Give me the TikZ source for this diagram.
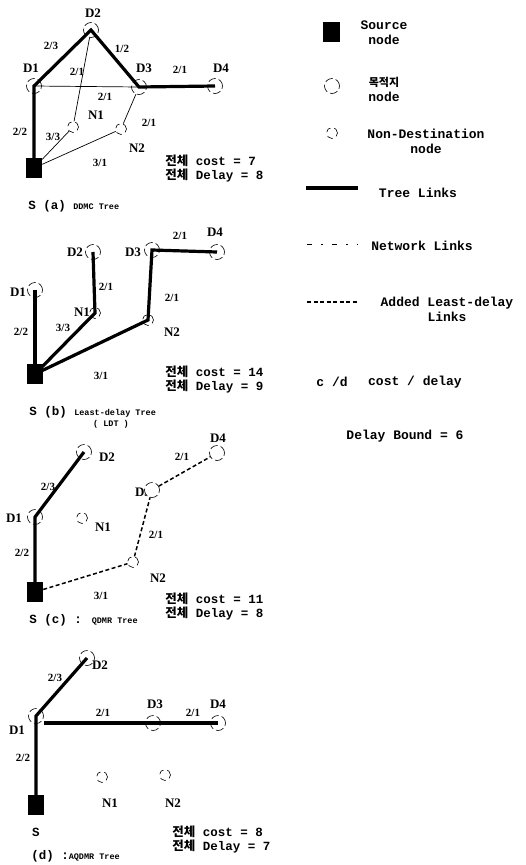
\documentclass[tikz,border=0pt]{standalone}
\usepackage{fontspec}
\setmainfont{Liberation Serif}
\newfontfamily\monof{Liberation Mono}
\newfontfamily\korf{Noto Sans CJK KR}
\newcommand{\jeonche}{{\korf\bfseries 전체}}
\begin{document}
\begin{tikzpicture}[x=1pt, y=-1pt, line width=0.5pt,
  dest/.style={circle, draw, line width=0.6pt, dash pattern=on 8pt off 3pt, minimum size=15pt, inner sep=0pt},
  nondest/.style={circle, draw, line width=0.6pt, dash pattern=on 6pt off 4pt, minimum size=11pt, inner sep=0pt},
  src/.style={rectangle, fill=black, minimum width=16pt, minimum height=20pt, inner sep=0pt},
  tree/.style={line width=3.2pt},
  net/.style={line width=0.7pt},
  added/.style={line width=1.5pt, dash pattern=on 4pt off 2.5pt},
  nm/.style={font=\bfseries\fontsize{13}{13}\selectfont, inner sep=0pt},
  cd/.style={font=\bfseries\fontsize{11}{11}\selectfont, inner sep=0pt},
  txt/.style={font=\monof\bfseries\fontsize{13}{15}\selectfont, align=center, inner sep=0pt},
  totals/.style={font=\monof\bfseries\fontsize{12.5}{14}\selectfont, align=left, anchor=north west, inner sep=0pt},
  capt/.style={font=\monof\bfseries\fontsize{12.5}{12.5}\selectfont, anchor=west, inner sep=0pt}]
  \useasboundingbox (0,0) rectangle (525,865);
  \newcommand{\capsmall}{\fontsize{8.5}{8.5}\selectfont}

  % (a) DDMC 트리
  \node[dest] (aD2) at (91,30) {};
  \node[dest] (aD1) at (34,86) {};
  \node[dest] (aD3) at (139,87) {};
  \node[dest] (aD4) at (215,86) {};
  \node[nondest] (aN1) at (73,127) {};
  \node[nondest] (aN2) at (121,129) {};
  \node[src] (aS) at (34,168) {};
  \draw[tree] (aS.center) -- (aD1.center) -- (aD2.center) -- (aD3.center) -- (aD4.center);
  \draw[net] (aD1.center) -- (aD3.center);
  \draw[net] (aD2) -- (aN1);
  \draw[net] (aD3) -- (aN2);
  \draw[net] (aS) -- (aN1);
  \draw[net] (aS) -- (aN2);
  \node[nm] (aD2l) at (93,13) {D2};
  \node[nm] (aD1l) at (31,68) {D1};
  \node[nm] (aD3l) at (144,68) {D3};
  \node[nm] (aD4l) at (221,68) {D4};
  \node[nm] (aN1l) at (96,115) {N1};
  \node[nm] (aN2l) at (137,148) {N2};
  \node[cd] (ac1) at (51,46) {2/3};
  \node[cd] (ac2) at (122,49) {1/2};
  \node[cd] (ac3) at (180,70) {2/1};
  \node[cd] (ac4) at (77,72) {2/1};
  \node[cd] (ac5) at (105,97) {2/1};
  \node[cd] (ac6) at (149,123) {2/1};
  \node[cd] (ac7) at (20,132) {2/2};
  \node[cd] (ac8) at (53,137) {3/3};
  \node[cd] (ac9) at (100,163) {3/1};
  \node[totals] (acost) at (165,155) {\jeonche{} cost = 7\\\jeonche{} Delay = 8};
  \node[capt] (acap) at (28,206) {S (a) {\capsmall DDMC Tree}};

  % (b) 최소 지연 트리
  \node[dest] (bD2) at (93,252) {};
  \node[dest] (bD3) at (152,250) {};
  \node[dest] (bD4) at (217,252) {};
  \node[dest] (bD1) at (35,290) {};
  \node[nondest] (bN1) at (95,313) {};
  \node[nondest] (bN2) at (148,320) {};
  \node[src] (bS) at (35,374) {};
  \draw[tree] (bS.center) -- (bD1.center);
  \draw[tree] (bS.center) -- (bN1.center) -- (bD2.center);
  \draw[tree] (bS.center) -- (bN2.center) -- (bD3.center) -- (bD4.center);
  \node[nm] (bD2l) at (75,252) {D2};
  \node[nm] (bD3l) at (133,252) {D3};
  \node[nm] (bD4l) at (215,232) {D4};
  \node[nm] (bD1l) at (18,292) {D1};
  \node[nm] (bN1l) at (82,312) {N1};
  \node[nm] (bN2l) at (172,332) {N2};
  \node[cd] (bc1) at (180,236) {2/1};
  \node[cd] (bc2) at (106,287) {2/1};
  \node[cd] (bc3) at (172,298) {2/1};
  \node[cd] (bc4) at (63,328) {3/3};
  \node[cd] (bc5) at (21,332) {2/2};
  \node[cd] (bc6) at (101,376) {3/1};
  \node[totals] (bcost) at (165,366) {\jeonche{} cost = 14\\\jeonche{} Delay = 9};
  \node[capt] (bcap) at (29,412) {S (b) {\capsmall Least-delay Tree}};
  \node[capt, anchor=center] (bcap2) at (111,424) {\capsmall ( LDT )};

  % (c) QDMR 트리
  \node[dest] (cD2) at (84,452) {};
  \node[dest] (cD4) at (217,453) {};
  \node[nm] (cD3l) at (143,492) {D3};
  \node[dest, fill=white] (cD3) at (152,490) {};
  \node[dest] (cD1) at (35,517) {};
  \node[nondest] (cN1) at (82,518) {};
  \node[nondest] (cN2) at (133,562) {};
  \node[src] (cS) at (35,592) {};
  \draw[tree] (cS.center) -- (cD1.center) -- (cD2.center);
  \draw[added] (cS) -- (cN2) -- (cD3) -- (cD4);
  \node[nm] (cD2l) at (107,457) {D2};
  \node[nm] (cD4l) at (218,438) {D4};
  \node[nm] (cD1l) at (14,518) {D1};
  \node[nm] (cN1l) at (103,527) {N1};
  \node[nm] (cN2l) at (158,578) {N2};
  \node[cd] (cc1) at (182,457) {2/1};
  \node[cd] (cc2) at (48,487) {2/3};
  \node[cd] (cc3) at (156,535) {2/1};
  \node[cd] (cc4) at (22,553) {2/2};
  \node[cd] (cc5) at (101,596) {3/1};
  \node[totals] (ccost) at (165,593) {\jeonche{} cost = 11\\\jeonche{} Delay = 8};
  \node[capt] (ccap) at (29,620) {S (c) : {\capsmall QDMR Tree}};

  % (d) AQDMR 트리
  \node[dest] (dD2) at (87,658) {};
  \node[dest] (dD1) at (36,716) {};
  \node[dest] (dD3) at (153,723) {};
  \node[dest] (dD4) at (218,723) {};
  \node[nondest] (dN1) at (102,777) {};
  \node[nondest] (dN2) at (165,775) {};
  \node[src] (dS) at (36,805) {};
  \draw[tree] (dS.center) -- (dD1.center) -- (dD2.center);
  \draw[tree] (dD1.east |- dD4.center) -- (dD4.center);
  \node[nm] (dD2l) at (100,665) {D2};
  \node[nm] (dD1l) at (17,730) {D1};
  \node[nm] (dD3l) at (155,704) {D3};
  \node[nm] (dD4l) at (218,704) {D4};
  \node[nm] (dN1l) at (110,803) {N1};
  \node[nm] (dN2l) at (173,803) {N2};
  \node[nm, font=\monof\bfseries\fontsize{12.5}{12.5}\selectfont] (dSl) at (36,832) {S};
  \node[cd] (dc1) at (55,678) {2/3};
  \node[cd] (dc2) at (103,713) {2/1};
  \node[cd] (dc3) at (193,713) {2/1};
  \node[cd] (dc4) at (23,758) {2/2};
  \node[totals] (dcost) at (172,826) {\jeonche{} cost = 8\\\jeonche{} Delay = 7};
  \node[capt] (dcap) at (31,856) {(d) :{\capsmall AQDMR Tree}};

  % 범례
  \node[src, minimum width=17pt] (lgS) at (331,32) {};
  \node[txt] (lgSt) at (384,33) {Source\\node};
  \node[dest] (lgD) at (332,86) {};
  \node[txt] (lgDt) at (384,89) {{\korf\bfseries\fontsize{11}{11}\selectfont 목적지}\\node};
  \node[nondest] (lgN) at (332,133) {};
  \node[txt] (lgNt) at (426,141) {Non-Destination\\node};
  \coordinate (lgT1) at (306,188);
  \coordinate (lgT2) at (358,188);
  \draw[tree] (lgT1) -- (lgT2);
  \node[txt] (lgTt) at (418,193) {Tree Links};
  \coordinate (lgW1) at (307,244);
  \coordinate (lgW2) at (358,244);
  \draw[net, dash pattern=on 5pt off 9pt on 2pt off 9pt] (lgW1) -- (lgW2);
  \node[txt] (lgWt) at (422,246) {Network Links};
  \coordinate (lgA1) at (307,302);
  \coordinate (lgA2) at (358,302);
  \draw[added] (lgA1) -- (lgA2);
  \node[txt] (lgAt) at (447,309) {Added Least-delay\\Links};
  \node[txt] (lgC) at (332,382) {c /d};
  \node[txt] (lgCt) at (415,382) {cost / delay};
  \node[txt] (lgB) at (405,436) {Delay Bound = 6};
\end{tikzpicture}
\end{document}
